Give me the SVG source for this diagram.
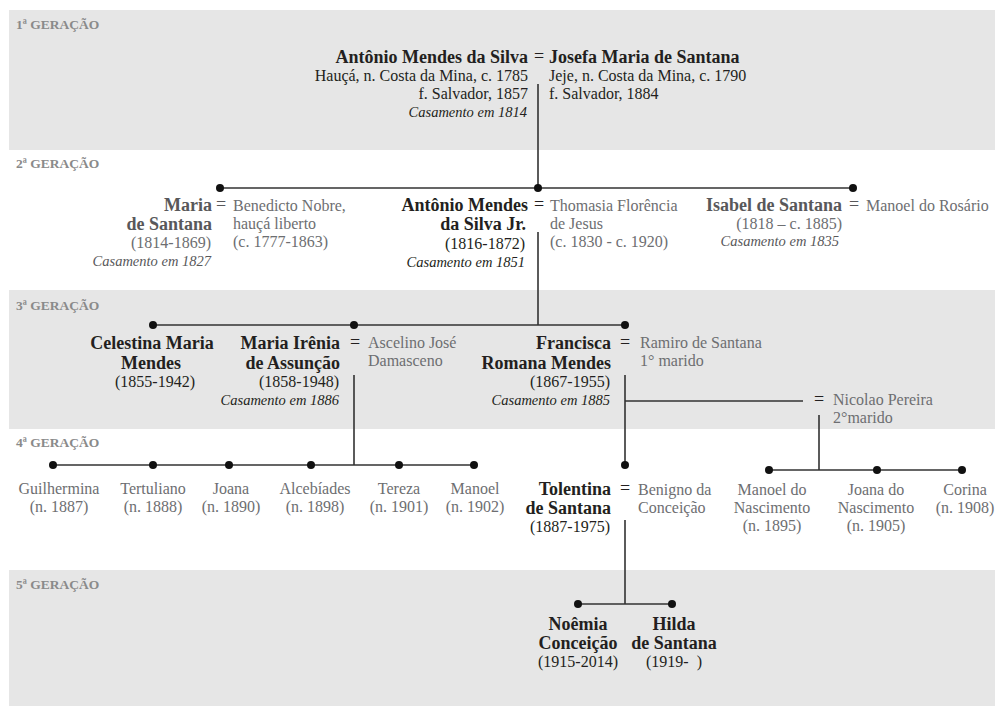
<svg xmlns="http://www.w3.org/2000/svg" width="995" height="706" viewBox="0 0 995 706">
<style>
text{font-family:"Liberation Serif","Times New Roman",serif}
.nm{font-weight:bold;font-size:18px;fill:#231f20}
.nmg{font-weight:bold;font-size:18px;fill:#58585a}
.tx{font-size:16px;fill:#231f20}
.txg{font-size:16px;fill:#6d6e71}
.it{font-style:italic;font-size:14.5px;fill:#231f20}
.itg{font-style:italic;font-size:14.5px;fill:#58585a}
.eq{font-size:18px;fill:#231f20;text-anchor:middle}
.eqg{font-size:18px;fill:#58585a;text-anchor:middle}
.gen{font-weight:bold;font-size:13.5px;fill:#8a8a8a}
.e{text-anchor:end}
.m{text-anchor:middle}
.band{fill:#e6e6e6}
.ln{stroke:#333;stroke-width:1.6;fill:none}
.dot{fill:#111}
</style>
<g id="bands">
<rect class="band" x="9" y="10" width="986" height="140"/>
<rect class="band" x="9" y="290" width="986" height="139"/>
<rect class="band" x="9" y="570" width="986" height="136"/>
</g>
<g id="generation-labels">
<text class="gen" x="16" y="29">1ª GERAÇÃO</text>
<text class="gen" x="16" y="168">2ª GERAÇÃO</text>
<text class="gen" x="16" y="310">3ª GERAÇÃO</text>
<text class="gen" x="16" y="447">4ª GERAÇÃO</text>
<text class="gen" x="16" y="589">5ª GERAÇÃO</text>
</g>
<g id="connectors">
<path class="ln" d="M538 84V188M220 188H853"/>
<path class="ln" d="M538 232V325M153 325H625"/>
<path class="ln" d="M354 375V465M53 465H474"/>
<path class="ln" d="M625 375V465M625 401H803"/>
<path class="ln" d="M819 415V470M769 470H962"/>
<path class="ln" d="M625 520V604M578 604H672"/>
<g class="dot">
<circle cx="220" cy="188" r="4"/><circle cx="538" cy="188" r="4"/><circle cx="853" cy="188" r="4"/>
<circle cx="153" cy="325" r="4"/><circle cx="354" cy="325" r="4"/><circle cx="625" cy="325" r="4"/>
<circle cx="53" cy="465" r="4"/><circle cx="153" cy="465" r="4"/><circle cx="229" cy="465" r="4"/><circle cx="311" cy="465" r="4"/><circle cx="399" cy="465" r="4"/><circle cx="474" cy="465" r="4"/>
<circle cx="625" cy="465" r="4"/>
<circle cx="769" cy="470" r="4"/><circle cx="877" cy="470" r="4"/><circle cx="962" cy="470" r="4"/>
<circle cx="578" cy="604" r="4"/><circle cx="672" cy="604" r="4"/>
</g>
</g>
<g id="antonio-mendes-da-silva">
<text class="nm e" x="528" y="63">Antônio Mendes da Silva</text>
<text class="tx e" x="528" y="81">Hauçá, n. Costa da Mina, c. 1785</text>
<text class="tx e" x="528" y="99">f. Salvador, 1857</text>
<text class="it e" x="527" y="117">Casamento em 1814</text>
<text class="eq" x="539" y="62">=</text>
</g>
<g id="josefa-maria-de-santana">
<text class="nm" x="549" y="63">Josefa Maria de Santana</text>
<text class="tx" x="549" y="81">Jeje, n. Costa da Mina, c. 1790</text>
<text class="tx" x="549" y="99">f. Salvador, 1884</text>
</g>
<g id="maria-de-santana">
<text class="nmg e" x="212" y="211">Maria</text>
<text class="nmg e" x="212" y="230">de Santana</text>
<text class="txg e" x="211" y="248">(1814-1869)</text>
<text class="itg e" x="211" y="266">Casamento em 1827</text>
<text class="eqg" x="221" y="210">=</text>
</g>
<g id="benedicto-nobre">
<text class="txg" x="233" y="211">Benedicto Nobre,</text>
<text class="txg" x="233" y="229">hauçá liberto</text>
<text class="txg" x="233" y="247">(c. 1777-1863)</text>
</g>
<g id="antonio-mendes-da-silva-jr">
<text class="nm e" x="528" y="211">Antônio Mendes</text>
<text class="nm e" x="526" y="230">da Silva Jr.</text>
<text class="tx e" x="525" y="249">(1816-1872)</text>
<text class="it e" x="525" y="267">Casamento em 1851</text>
<text class="eq" x="539" y="210">=</text>
</g>
<g id="thomasia-florencia-de-jesus">
<text class="txg" x="550" y="211">Thomasia Florência</text>
<text class="txg" x="550" y="229">de Jesus</text>
<text class="txg" x="550" y="247">(c. 1830 - c. 1920)</text>
</g>
<g id="isabel-de-santana">
<text class="nmg e" x="842" y="211">Isabel de Santana</text>
<text class="txg e" x="842" y="229">(1818 – c. 1885)</text>
<text class="itg e" x="839" y="246">Casamento em 1835</text>
<text class="eqg" x="854" y="210">=</text>
</g>
<g id="manoel-do-rosario">
<text class="txg" x="866" y="211">Manoel do Rosário</text>
</g>
<g id="celestina-maria-mendes">
<text class="nm m" x="152" y="349">Celestina Maria</text>
<text class="nm m" x="151" y="369">Mendes</text>
<text class="tx m" x="155" y="387">(1855-1942)</text>
</g>
<g id="maria-irenia-de-assuncao">
<text class="nm e" x="340" y="349">Maria Irênia</text>
<text class="nm e" x="340" y="369">de Assunção</text>
<text class="tx e" x="339" y="387">(1858-1948)</text>
<text class="it e" x="339" y="405">Casamento em 1886</text>
<text class="eq" x="355" y="348">=</text>
</g>
<g id="ascelino-jose-damasceno">
<text class="txg" x="368" y="348">Ascelino José</text>
<text class="txg" x="368" y="366">Damasceno</text>
</g>
<g id="francisca-romana-mendes">
<text class="nm e" x="611" y="349">Francisca</text>
<text class="nm e" x="611" y="369">Romana Mendes</text>
<text class="tx e" x="610" y="387">(1867-1955)</text>
<text class="it e" x="610" y="405">Casamento em 1885</text>
<text class="eq" x="625" y="348">=</text>
</g>
<g id="ramiro-de-santana">
<text class="txg" x="640" y="348">Ramiro de Santana</text>
<text class="txg" x="640" y="366">1° marido</text>
</g>
<g id="nicolao-pereira">
<text class="eq" x="819" y="405">=</text>
<text class="txg" x="833" y="405">Nicolao Pereira</text>
<text class="txg" x="833" y="423">2°marido</text>
</g>
<g id="guilhermina"><text class="txg m" x="59" y="494">Guilhermina</text><text class="txg m" x="59" y="512">(n. 1887)</text></g>
<g id="tertuliano"><text class="txg m" x="153" y="494">Tertuliano</text><text class="txg m" x="153" y="512">(n. 1888)</text></g>
<g id="joana"><text class="txg m" x="231" y="494">Joana</text><text class="txg m" x="231" y="512">(n. 1890)</text></g>
<g id="alcebiades"><text class="txg m" x="315" y="494">Alcebíades</text><text class="txg m" x="315" y="512">(n. 1898)</text></g>
<g id="tereza"><text class="txg m" x="399" y="494">Tereza</text><text class="txg m" x="399" y="512">(n. 1901)</text></g>
<g id="manoel"><text class="txg m" x="475" y="494">Manoel</text><text class="txg m" x="475" y="512">(n. 1902)</text></g>
<g id="tolentina-de-santana">
<text class="nm e" x="611" y="495">Tolentina</text>
<text class="nm e" x="611" y="514">de Santana</text>
<text class="tx e" x="610" y="532">(1887-1975)</text>
<text class="eq" x="625" y="494">=</text>
</g>
<g id="benigno-da-conceicao">
<text class="txg" x="638" y="495">Benigno da</text>
<text class="txg" x="638" y="513">Conceição</text>
</g>
<g id="manoel-do-nascimento"><text class="txg m" x="772" y="495">Manoel do</text><text class="txg m" x="772" y="513">Nascimento</text><text class="txg m" x="772" y="531">(n. 1895)</text></g>
<g id="joana-do-nascimento"><text class="txg m" x="876" y="495">Joana do</text><text class="txg m" x="876" y="513">Nascimento</text><text class="txg m" x="876" y="531">(n. 1905)</text></g>
<g id="corina"><text class="txg m" x="965" y="495">Corina</text><text class="txg m" x="965" y="513">(n. 1908)</text></g>
<g id="noemia-conceicao">
<text class="nm m" x="578" y="630">Noêmia</text>
<text class="nm m" x="578" y="649">Conceição</text>
<text class="tx m" x="578" y="667">(1915-2014)</text>
</g>
<g id="hilda-de-santana">
<text class="nm m" x="674" y="630">Hilda</text>
<text class="nm m" x="674" y="649">de Santana</text>
<text class="tx m" x="674" y="667" xml:space="preserve">(1919-  )</text>
</g>
</svg>
